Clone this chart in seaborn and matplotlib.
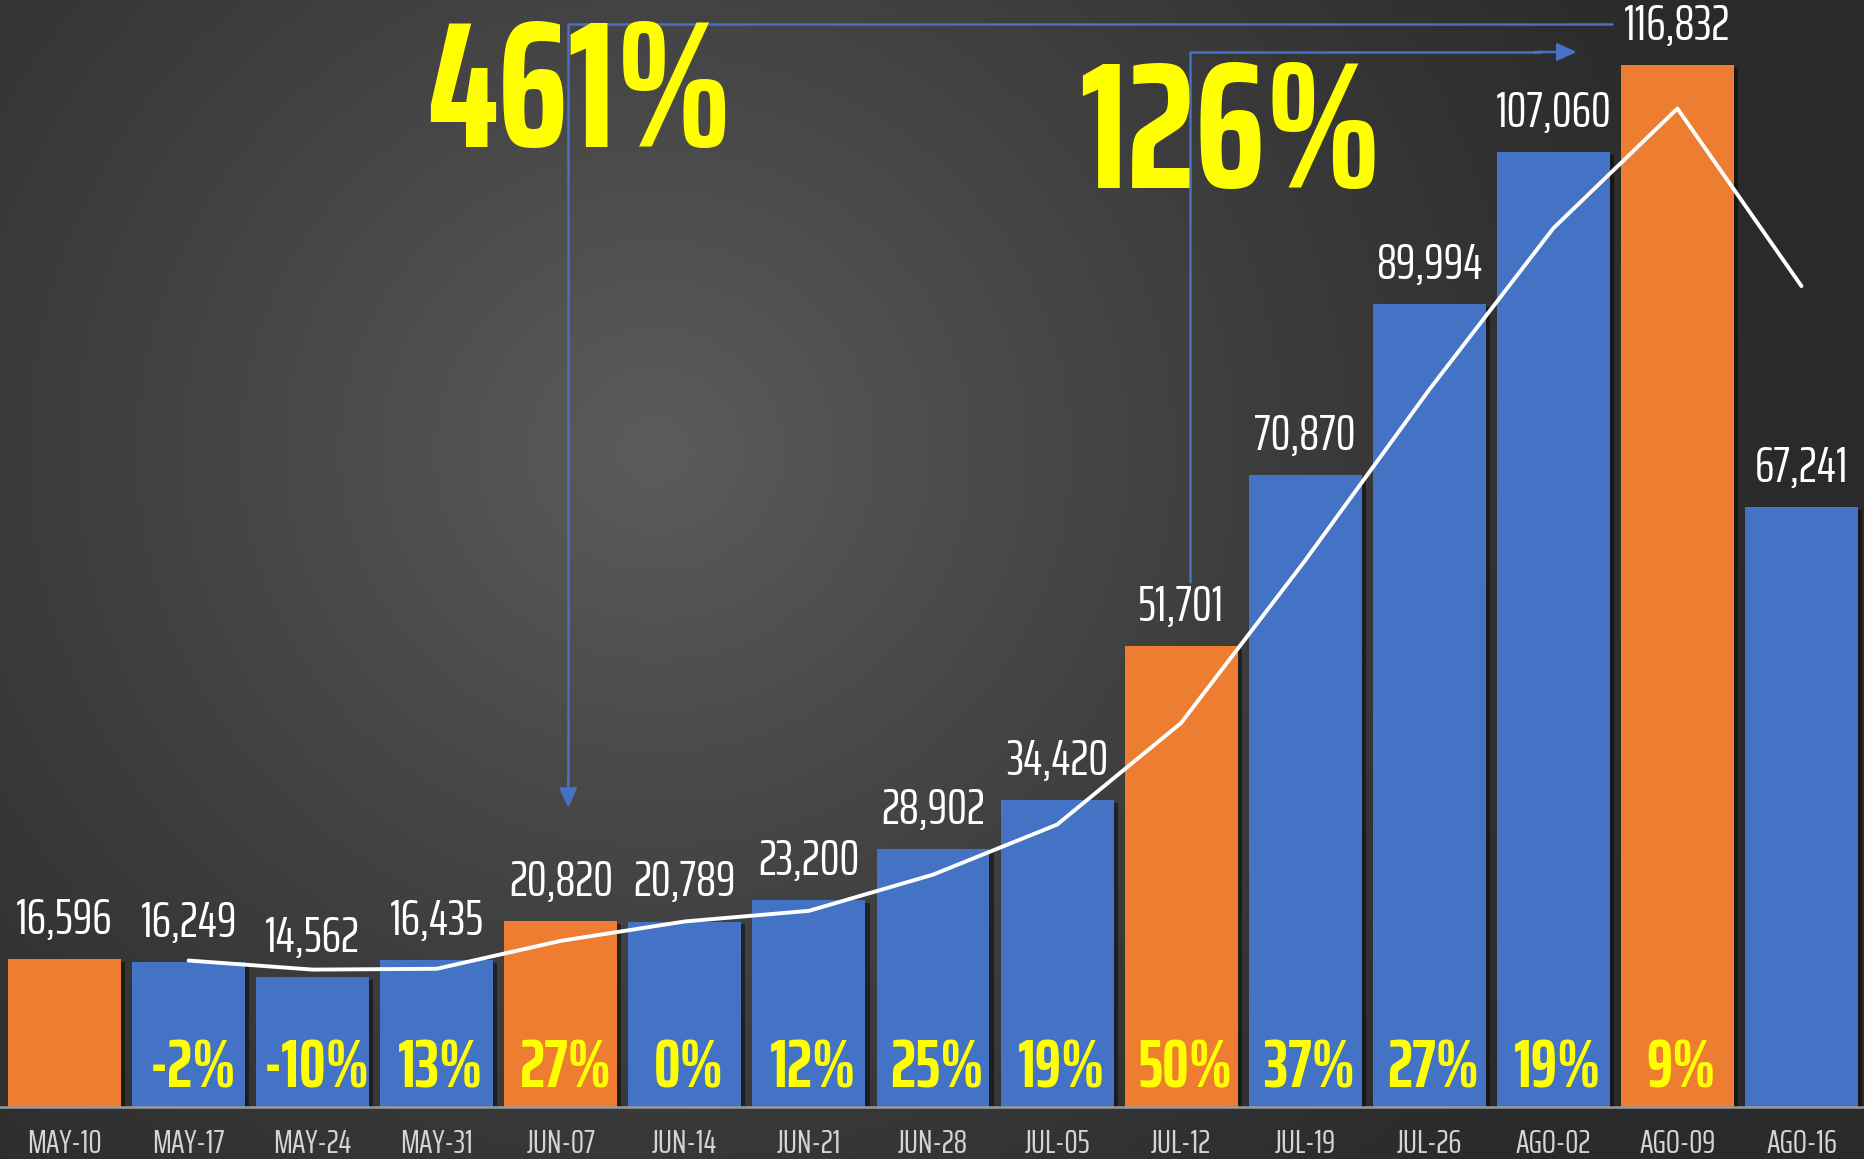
import numpy as np
import pandas as pd
import matplotlib
matplotlib.use("Agg")
import matplotlib.pyplot as plt
import matplotlib.patheffects as pe
from matplotlib import font_manager
import seaborn as sns

# ---------------- data ----------------
weeks = ["MAY-10", "MAY-17", "MAY-24", "MAY-31", "JUN-07", "JUN-14", "JUN-21",
         "JUN-28", "JUL-05", "JUL-12", "JUL-19", "JUL-26", "AGO-02", "AGO-09", "AGO-16"]
cases = [16596, 16249, 14562, 16435, 20820, 20789, 23200,
         28902, 34420, 51701, 70870, 89994, 107060, 116832, 67241]
pct_labels = ["", "-2%", "-10%", "13%", "27%", "0%", "12%",
              "25%", "19%", "50%", "37%", "27%", "19%", "9%", ""]
highlight = [True, False, False, False, True, False, False,
             False, False, True, False, False, False, True, False]
# trend line (2-week average), starting at MAY-17
trend_weeks = weeks[1:]
trend_values = [16422, 15405, 15498, 18627, 20804, 21994, 26051,
                31661, 43060, 61285, 80432, 98527, 111946, 92036]
big_labels = ["461%", "126%"]

BLUE = "#4472C4"
ORANGE = "#ED7D31"
YELLOW = "#FFFF00"

# ---------------- fonts ----------------
names = {f.name for f in font_manager.fontManager.ttflist}
candidates = ["Saira ExtraCondensed", "Saira Extra Condensed", "Saira Condensed",
              "Pathway Gothic One", "Antonio", "Oswald", "Barlow Condensed",
              "Roboto Condensed", "Liberation Sans Narrow"]
FONT = next((c for c in candidates if c in names), "DejaVu Sans")
FAM = [FONT, "DejaVu Sans"]

sns.set_theme(style="dark")
plt.rcParams["font.family"] = FAM

W, H = 1865, 1159
fig = plt.figure(figsize=(W / 100, H / 100), dpi=100)

# background radial gradient
bg = fig.add_axes([0, 0, 1, 1])
yy, xx = np.mgrid[0:H, 0:W]
d = np.sqrt((xx - 655.0) ** 2 + ((yy - 450.0) * 1.05) ** 2) / 1150.0
t = np.clip(1 - d, 0, 1) ** 1.3
grey = (42 + (92 - 42) * t) / 255.0
img = np.dstack([grey, grey, grey])
bg.imshow(img, extent=[0, 1, 0, 1], aspect="auto", interpolation="bilinear")
bg.set_axis_off()

ax = fig.add_axes([0, 52 / H, 1, 1107 / H])
ax.patch.set_alpha(0)

df = pd.DataFrame({"week": weeks, "cases": cases})
palette = {w: (ORANGE if h else BLUE) for w, h in zip(weeks, highlight)}
sns.barplot(data=df, x="week", y="cases", hue="week", palette=palette,
            width=0.91, legend=False, ax=ax, saturation=1, zorder=2,
            edgecolor="none", linewidth=0)
for p in ax.patches:
    p.set_path_effects([pe.SimplePatchShadow(offset=(3, -2), shadow_rgbFace="black", alpha=0.45),
                        pe.Normal()])

pos = {w: i for i, w in enumerate(weeks)}
sns.lineplot(x=[pos[w] for w in trend_weeks], y=trend_values, color="white",
             linewidth=2.8, ax=ax, zorder=4)

ax.set_xlim(-0.52, 14.512)
ax.set_ylim(0, 124117)

# value labels
for i, v in enumerate(cases):
    ax.annotate(f"{v:,}", xy=(i, v), xytext=(0, 11), textcoords="offset points",
                ha="center", va="bottom", color="white", fontsize=36,
                fontweight="normal", zorder=6)

# percentage labels inside bars
for i, s in enumerate(pct_labels):
    if s:
        ax.annotate(s, xy=(i, 0), xytext=(3, 27), textcoords="offset points",
                    ha="center", va="center", color=YELLOW, fontsize=48,
                    fontweight="bold", zorder=6)

# connector arrows
ax.plot([12.47, 4.06, 4.06], [121430, 121430, 36500], color=BLUE, lw=1.8, zorder=1)
ax.annotate("", xy=(4.06, 33500), xytext=(4.06, 37000),
            arrowprops=dict(arrowstyle="-|>,head_length=1.0,head_width=0.45",
                            color=BLUE, lw=1.8, shrinkA=0, shrinkB=0), zorder=1)
ax.plot([9.07, 9.07, 11.9], [58860, 118290, 118290], color=BLUE, lw=1.8, zorder=1)
ax.annotate("", xy=(12.19, 118290), xytext=(11.85, 118290),
            arrowprops=dict(arrowstyle="-|>,head_length=1.0,head_width=0.45",
                            color=BLUE, lw=1.8, shrinkA=0, shrinkB=0), zorder=1)

# big growth labels
ax.text(2.92, 107636, big_labels[0], ha="left", va="baseline", color=YELLOW,
        fontsize=129, fontweight="bold", zorder=7)
ax.text(8.18, 103040, big_labels[1], ha="left", va="baseline", color=YELLOW,
        fontsize=129, fontweight="bold", zorder=7)

# axes styling
ax.set_xlabel("")
ax.set_ylabel("")
ax.set_yticks([])
ax.grid(False)
for side in ["top", "left", "right"]:
    ax.spines[side].set_visible(False)
ax.spines["bottom"].set_visible(True)
ax.spines["bottom"].set_color("#9a9a9a")
ax.spines["bottom"].set_linewidth(1.8)
ax.spines["bottom"].set_zorder(5)
ax.tick_params(axis="x", length=0, pad=16, colors="#d4d4d4", labelsize=24)

fig.savefig("out.png", dpi=100)
